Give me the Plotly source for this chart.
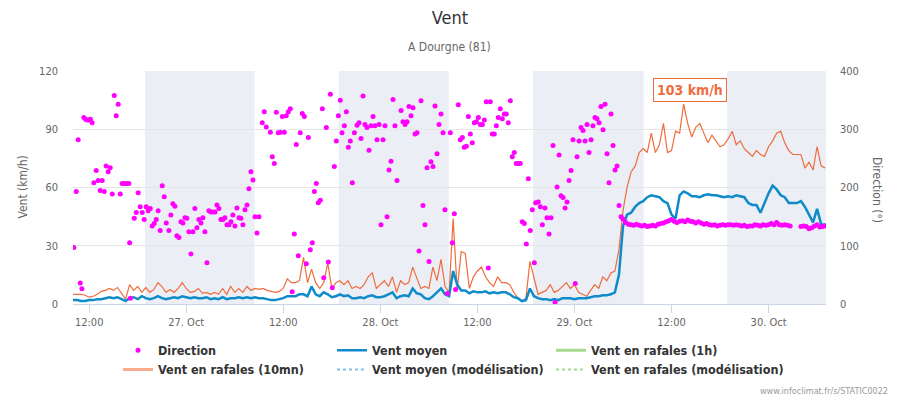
import numpy as np
import pandas as pd
import plotly.graph_objects as go

# ---------------- DATA ----------------
# wind series, one value every 30 min, starting 26 Oct 10:00
rafales_10mn = [
    5, 5, 5, 4.5, 3.5, 4, 5, 6.5, 7, 8, 7, 8.5, 5.5, 2.5, 10, 7, 9, 6, 8.5, 6, 7.5, 11, 9, 6,
    7.5, 6, 8, 11, 8, 6, 6.5, 8, 5.5, 6, 5, 6, 5, 8, 5, 9, 6, 8, 6, 9, 7, 8, 7.5, 8,
    7, 6.5, 6, 6.5, 8, 13, 11, 11, 12, 24, 11, 18, 11, 8, 11, 21, 8, 11, 12, 10, 12, 8, 9, 8,
    10, 14, 16, 8, 10, 12, 9, 14, 6, 12, 10, 11, 19, 13, 8, 9, 8, 19, 12, 23, 9, 6, 44, 7,
    27, 26, 8, 14, 17, 19, 14, 11, 9, 14, 11, 11, 10, 6, 3, 1.5, 3, 22, 14, 5, 6, 7, 10, 6,
    7, 9, 11, 8, 10, 6, 5, 4, 7, 10, 8, 14, 12, 16, 17, 28, 48, 60, 68, 71, 78, 80, 78, 88,
    78, 82, 93, 78, 79, 89, 88, 103, 93, 86, 91, 93, 88, 83, 87, 84, 81, 82, 85, 89, 82, 84, 80, 78,
    76, 79, 77, 76, 81, 84, 88, 89, 83, 79, 77, 77, 77, 70, 73, 69, 81, 71, 70,
]
vent_moyen = [
    2, 2, 1.5, 1.5, 2, 2, 2.5, 2.5, 3, 3.5, 3, 3.5, 2.5, 1.5, 3, 3.5, 2.5, 4, 3, 2.5, 3, 4, 3, 2.5,
    3, 3.5, 3, 4, 3.5, 3, 3.5, 3, 3, 3.5, 2.5, 3, 2.5, 3.5, 2.5, 3, 3, 3.5, 3, 3.5, 3, 3.5, 3, 3,
    2.5, 2, 2, 2.5, 3, 4, 4, 4, 5, 5, 4, 9, 5, 4, 6, 5, 3.5, 4, 5, 4, 4.5, 3, 3, 3.5,
    3, 4, 4.5, 3.5, 3.5, 4, 5, 6, 3, 4, 4.5, 4, 8, 5.5, 5, 3, 2.5, 4, 6, 8, 5, 4, 17, 10,
    7, 7, 5.5, 6.5, 6, 6, 6.5, 5.5, 6, 5.5, 6, 6, 5, 3.5, 3, 1.5, 2, 8, 4, 3, 2.5, 2.5, 2, 2.5,
    2, 3, 3, 3, 2.5, 3, 3, 3, 3.5, 4, 4, 4.5, 4.5, 5, 6, 15, 40, 46, 47, 50, 52, 53, 55, 56,
    55.5, 55, 53, 52, 46, 44, 56, 58, 57, 55.5, 55.5, 55, 56, 56.5, 56, 56, 55.5, 55, 55.5, 55, 56, 55.5, 55, 52,
    51, 51, 47, 52, 57, 61, 59, 56, 55, 52, 52, 52, 53, 50, 46, 42, 49, 41, 41,
]

# direction readings: hours after 26 Oct 12:00, and degrees
dir_hours = [
    -1.9, -1.6, -1.36, -1.1, -0.9, -0.66, -0.45, -0.25, -0.05, 0.16, 0.37, 0.58, 0.87, 1.12, 1.36,
    1.61, 1.86, 2.1, 2.35, 2.6, 2.85, 3.1, 3.34, 3.59, 3.84, 4.08, 4.3, 4.5, 4.7, 4.9, 5.0, 5.1,
    5.57, 5.82, 6.06, 6.31, 6.56, 6.8, 7.05, 7.3, 7.55, 7.79, 8.04, 8.29, 8.53, 8.78, 9.03, 9.28,
    9.53, 9.86, 10.1, 10.35, 10.6, 10.85, 11.1, 11.34, 11.59, 11.84, 12.08, 12.33, 12.58, 12.83,
    13.07, 13.32, 13.57, 13.82, 14.06, 14.31, 14.56, 14.8, 15.05, 15.3, 15.55, 15.8, 16.04, 16.29,
    16.54, 16.78, 17.03, 17.28, 17.53, 17.77, 18.02, 18.27, 18.52, 18.76, 19.01, 19.26, 19.51,
    19.75, 20.0, 20.25, 20.5, 20.75, 20.99, 21.4, 21.65, 21.9, 22.4, 22.64, 22.89, 23.14, 23.38,
    23.63, 23.88, 24.13, 24.37, 24.62, 24.87, 25.1, 25.36, 25.61, 25.86, 26.1, 26.35, 26.6, 26.85,
    27.1, 27.34, 27.59, 27.84, 28.08, 28.33, 28.58, 28.83, 29.0, 29.32, 29.57, 29.82, 30.06, 30.31,
    30.56, 30.81,
    31.05, 31.26, 31.55, 31.8, 32.04, 32.29, 32.54, 32.79, 33.12, 33.36, 33.61, 33.86, 34.1, 34.35,
    34.6, 34.85, 35.1, 35.34, 35.59, 35.84, 36.08, 36.33, 36.58, 36.83, 37.07, 37.32, 37.57, 37.81,
    38.06, 38.56, 38.8, 39.05, 39.3, 39.54, 39.79, 40.04, 40.29, 40.53, 40.78, 41.03, 41.27, 41.52,
    41.77, 42.02, 42.26, 42.51, 42.76, 43.01, 43.25, 43.5, 43.75, 43.99, 44.3, 44.65, 44.9, 45.15,
    45.3, 45.64, 45.89, 46.14, 46.38, 46.63, 46.88, 47.13, 47.37, 47.62, 47.87, 48.12, 48.36, 48.61,
    48.86, 49.1, 49.35, 49.6, 49.84, 50.09, 50.34, 50.58, 50.83, 51.08, 51.33, 51.57, 51.82, 52.07,
    52.31, 52.56, 52.8, 53.05, 53.3, 53.55, 53.8, 54.05, 54.3, 54.54, 54.79, 55.04, 55.2, 55.53,
    55.78, 56.03, 56.36, 56.61, 56.86, 57.1, 57.35, 57.6, 57.85, 58.1, 58.34, 58.59, 58.84, 59.08,
    59.33, 59.58, 59.82, 60.1, 60.32, 60.57, 60.81, 61.06, 61.31, 61.55, 61.8, 62.05, 62.29, 62.54,
    62.79, 63.04, 63.28, 63.53, 63.78, 64.03, 64.27, 64.52, 64.77, 65.02, 65.26, 65.51, 65.76,
    66.0, 66.33, 66.67, 67.0, 67.33, 67.67, 68.0, 68.33, 68.67, 69.0, 69.33, 69.67, 70.0, 70.33,
    70.67, 71.0, 71.33, 71.67, 72.0, 72.33, 72.67, 73.0, 73.33, 73.67, 74.0, 74.33, 74.67, 75.0,
    75.33, 75.67, 76.0, 76.33, 76.67, 77.0, 77.33, 77.67, 78.0, 78.33, 78.67, 79.0, 79.33, 79.67,
    80.0, 80.33, 80.67, 81.0, 81.33, 81.67, 82.0, 82.33, 82.67, 83.0, 83.33, 83.67, 84.0, 84.33,
    84.67, 85.0, 85.33, 85.67, 86.0, 86.33, 86.67, 88.0, 88.33, 88.67, 89.0, 89.33, 89.67, 90.0,
    90.33, 90.67, 91.0,
]
direction = [
    97, 193, 282, 36, 26, 320, 317, 316, 316, 317, 311, 208, 229, 212, 195,
    212, 193, 237, 227, 234, 189, 358, 323, 343, 189, 207, 207, 207, 207, 207, 105, 10,
    147, 157, 191, 167, 157, 145, 167, 160, 164, 134, 138, 145, 160, 126, 203, 184,
    139, 126, 153, 172, 168, 117, 114, 141, 139, 148, 147, 124, 86, 124,
    164, 131, 145, 139, 148, 124, 71, 160, 158, 158, 158, 170, 164, 145,
    145, 148, 136, 136, 141, 153, 134, 165, 148, 147, 136, 162, 170,
    198, 227, 213, 150, 122, 150, 311, 330, 304, 295, 253, 241, 329, 294,
    295, 322, 295, 323, 330, 335, 21, 120, 274, 83, 294, 327, 322, 69,
    286, 93, 105, 193, 207, 174, 178, 335, 45, 303, 72, 360, 28, 236,
    280, 323,
    350, 294, 306, 330, 269, 280, 208, 294, 307, 311, 284, 357, 308, 303,
    264, 306, 322, 306, 282, 308, 136, 282, 306, 150, 230, 245, 351, 306,
    212, 332, 313, 308, 313, 339, 323, 337, 292, 294, 91, 349, 169, 136,
    234, 73, 244, 236, 340, 258, 308, 326, 294, 162, 18, 294, 105, 155,
    25, 342, 282, 286, 269, 271, 322, 292, 277, 311, 313, 320, 308, 308,
    316, 347, 62, 347, 292, 292, 306, 320, 335, 318, 326, 326, 311, 349,
    253, 260, 241, 241, 241, 141, 138, 103, 215, 126, 162, 71, 174, 175,
    167, 136, 165, 148, 120, 148, 272, 3, 201, 256, 186, 183, 165, 175,
    212, 229, 282, 35, 253, 280, 303, 298, 280, 308, 260, 282, 306, 320,
    318, 311, 339, 299, 343, 258, 208, 326, 272, 230, 237, 169, 150,
    146, 140, 137, 136, 135, 137, 135, 134, 135, 133, 134, 135, 134, 137,
    138, 139, 141, 143, 145, 142, 140, 142, 143, 141, 144, 142, 141, 139,
    141, 139, 137, 138, 136, 135, 136, 134, 135, 136, 135, 136, 136, 135,
    136, 135, 134, 135, 133, 134, 134, 136, 135, 134, 136, 135, 136, 138,
    136, 140, 136, 135, 136, 135, 134, 133, 134, 133, 129, 131, 134, 136,
    132, 133, 134,
]

night_start = ["2019-10-26 18:54", "2019-10-27 18:51", "2019-10-28 18:53", "2019-10-29 18:53"]
night_end = ["2019-10-27 08:27", "2019-10-28 08:27", "2019-10-29 08:34", "2019-10-30 07:06"]

tick_times = ["2019-10-26 12:00", "2019-10-27 00:00", "2019-10-27 12:00", "2019-10-28 00:00",
              "2019-10-28 12:00", "2019-10-29 00:00", "2019-10-29 12:00", "2019-10-30 00:00"]
tick_labels = ["12:00", "27. Oct", "12:00", "28. Oct", "12:00", "29. Oct", "12:00", "30. Oct"]

# ---------------- FIGURE ----------------
assert len(rafales_10mn) == len(vent_moyen)
assert len(dir_hours) == len(direction)

line_times = pd.date_range("2019-10-26 10:00", periods=len(vent_moyen), freq="30min")
base = pd.Timestamp("2019-10-26 12:00")
dir_times = base + pd.to_timedelta(dir_hours, unit="h")

FONT = "DejaVu Sans Condensed, DejaVu Sans, sans-serif"
ORANGE = "#F06C3C"
BLUE = "#0E8BC9"
MAGENTA = "#FF00FF"

fig = go.Figure()

# real data traces
fig.add_trace(go.Scatter(x=line_times, y=rafales_10mn, mode="lines", name="Vent en rafales (10mn)",
                         line=dict(color=ORANGE, width=1.2), showlegend=False, hoverinfo="skip"))
fig.add_trace(go.Scatter(x=line_times, y=vent_moyen, mode="lines", name="Vent moyen",
                         line=dict(color=BLUE, width=2.5), legend="legend2", legendrank=1))
fig.add_trace(go.Scatter(x=dir_times, y=direction, mode="markers", name="Direction", yaxis="y2",
                         marker=dict(color=MAGENTA, size=5), legend="legend", legendrank=1))

# legend-only entries
fig.add_trace(go.Scatter(x=[None], y=[None], mode="lines", name="Vent en rafales (1h)",
                         line=dict(color="#A5D98E", width=3), legend="legend3", legendrank=1))
fig.add_trace(go.Scatter(x=[None], y=[None], mode="lines", name="Vent en rafales (10mn)",
                         line=dict(color="#F7AC8E", width=3), legend="legend", legendrank=2))
fig.add_trace(go.Scatter(x=[None], y=[None], mode="lines", name="Vent moyen (modélisation)",
                         line=dict(color="#7EC4E8", width=2, dash="dot"), legend="legend2",
                         legendrank=2))
fig.add_trace(go.Scatter(x=[None], y=[None], mode="lines", name="Vent en rafales (modélisation)",
                         line=dict(color="#A5D98E", width=2, dash="dot"), legend="legend3",
                         legendrank=2))

for s, e in zip(night_start, night_end):
    fig.add_vrect(x0=s, x1=e, fillcolor="#EBEEF5", line_width=0, layer="below")

# max gust label
imax = int(np.argmax(rafales_10mn))
fig.add_annotation(x=line_times[imax], y=rafales_10mn[imax], xref="x", yref="y",
                   text=f"<b>{rafales_10mn[imax]:.0f} km/h</b>", showarrow=False,
                   yanchor="bottom", yshift=2, xshift=6,
                   font=dict(family=FONT, size=14, color=ORANGE),
                   bordercolor=ORANGE, borderwidth=1, borderpad=3, bgcolor="white")

# subtitle, axis titles, credits
fig.add_annotation(text="A Dourgne (81)", xref="paper", yref="paper", x=(449 - 73) / 753,
                   y=(304 - 47) / 233, showarrow=False, xanchor="center", yanchor="middle",
                   font=dict(family=FONT, size=12, color="#666666"))
fig.add_annotation(text="Vent (km/h)", xref="paper", yref="paper", x=(22 - 73) / 753, y=0.5,
                   showarrow=False, textangle=-90, xanchor="center", yanchor="middle",
                   font=dict(family=FONT, size=12, color="#666666"))
fig.add_annotation(text="Direction (°)", xref="paper", yref="paper", x=(877 - 73) / 753,
                   y=(304 - 190) / 233, showarrow=False, textangle=90, xanchor="center",
                   yanchor="middle", font=dict(family=FONT, size=12, color="#666666"))
fig.add_annotation(text="www.infoclimat.fr/s/STATIC0022", xref="paper", yref="paper",
                   x=(890 - 73) / 753, y=(304 - 391) / 233, showarrow=False, xanchor="right",
                   yanchor="middle", font=dict(family=FONT, size=9, color="#999999"))

legend_common = dict(orientation="v", xanchor="left", y=(304 - 335.5) / 233, yanchor="top",
                     itemwidth=30, tracegroupgap=0, bgcolor="rgba(0,0,0,0)",
                     traceorder="normal",
                     font=dict(family=FONT, size=12.5, color="#333333", weight="bold"))

fig.update_layout(
    width=900, height=400,
    margin=dict(l=73, r=74, t=71, b=96),
    paper_bgcolor="white", plot_bgcolor="white",
    title=dict(text="Vent", x=0.5, xanchor="center", y=1 - 17.5 / 400, yanchor="middle",
               yref="container", font=dict(family=FONT, size=18, color="#333333")),
    font=dict(family=FONT, size=11, color="#666666"),
    showlegend=True,
    legend=dict(x=(118 - 73) / 753, **legend_common),
    legend2=dict(x=(332 - 73) / 753, **legend_common),
    legend3=dict(x=(551 - 73) / 753, **legend_common),
    xaxis=dict(type="date", range=["2019-10-26 10:00", "2019-10-30 07:06"],
               tickvals=tick_times, ticktext=tick_labels, showgrid=False, zeroline=False,
               showline=True, linecolor="#CCD6EB", linewidth=1, ticks="outside", ticklen=8,
               tickcolor="#CCD6EB", tickfont=dict(family=FONT, size=11, color="#666666")),
    yaxis=dict(range=[0, 120], tickvals=[0, 30, 60, 90, 120], showgrid=True,
               gridcolor="#E6E6E6", zeroline=False, showline=False, ticks="",
               ticklabelstandoff=14, tickfont=dict(family=FONT, size=11, color="#666666")),
    yaxis2=dict(range=[0, 400], tickvals=[0, 100, 200, 300, 400], overlaying="y", side="right",
                showgrid=False, zeroline=False, showline=False, ticks="", ticklabelstandoff=13,
                tickfont=dict(family=FONT, size=11, color="#666666")),
    hovermode=False,
)

fig.write_html("out.html")
